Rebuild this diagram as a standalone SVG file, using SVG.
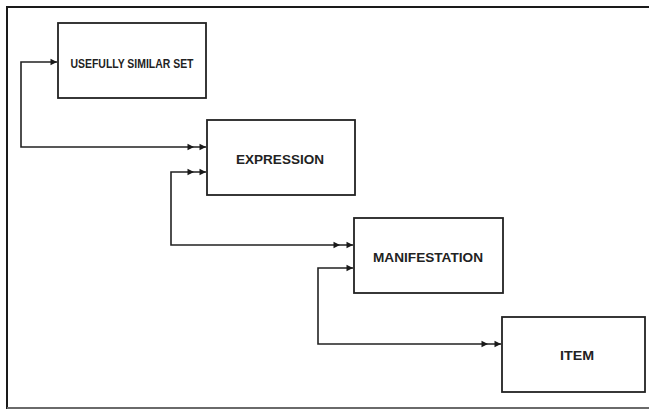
<svg xmlns="http://www.w3.org/2000/svg" xmlns:xlink="http://www.w3.org/1999/xlink" width="650" height="410" viewBox="0 0 650 410">
  <style>
    .frame { fill: none; stroke: #1a1a1a; stroke-width: 2; }
    .box { fill: #ffffff; stroke: #222222; stroke-width: 1.8; }
    .conn { fill: none; stroke: #222222; stroke-width: 1.6; }
    .lbl { font-family: "Liberation Sans", Arial, sans-serif; font-weight: bold; fill: #222222; text-anchor: middle; }
    .ah { fill: #1a1a1a; }
  </style>
  <defs>
    <path id="ah" class="ah" d="M-6.5,-3.3 L0,0 L-6.5,3.3 Z"/>
  </defs>
  <rect width="650" height="410" fill="#ffffff"/>
  <path class="frame" d="M649,7 H7 V408 H649"/>
  <line x1="7" y1="408" x2="649" y2="408" stroke="#6a6a6a" stroke-width="2"/>

  <g id="connectors">
    <path class="conn" d="M57,62 H21 V147 H206"/>
    <use xlink:href="#ah" x="57" y="62"/>
    <use xlink:href="#ah" x="194" y="147"/>
    <use xlink:href="#ah" x="206" y="147"/>

    <path class="conn" d="M206,172 H171 V245 H353"/>
    <use xlink:href="#ah" x="194" y="172"/>
    <use xlink:href="#ah" x="206" y="172"/>
    <use xlink:href="#ah" x="340" y="245"/>
    <use xlink:href="#ah" x="353" y="245"/>

    <path class="conn" d="M353,268 H318 V344 H501"/>
    <use xlink:href="#ah" x="353" y="268"/>
    <use xlink:href="#ah" x="488" y="344"/>
    <use xlink:href="#ah" x="501" y="344"/>
  </g>

  <g id="node-usefully-similar-set">
    <rect class="box" x="58" y="23" width="148" height="75"/>
    <text class="lbl" x="132" y="67.5" font-size="12.5" textLength="123" lengthAdjust="spacingAndGlyphs">USEFULLY SIMILAR SET</text>
  </g>
  <g id="node-expression">
    <rect class="box" x="207" y="120" width="148" height="75"/>
    <text class="lbl" x="280" y="164" font-size="13" textLength="88" lengthAdjust="spacingAndGlyphs">EXPRESSION</text>
  </g>
  <g id="node-manifestation">
    <rect class="box" x="354" y="218" width="149" height="75"/>
    <text class="lbl" x="428" y="262" font-size="13" textLength="110" lengthAdjust="spacingAndGlyphs">MANIFESTATION</text>
  </g>
  <g id="node-item">
    <rect class="box" x="502" y="317" width="143" height="75"/>
    <text class="lbl" x="577" y="360" font-size="13" textLength="34" lengthAdjust="spacingAndGlyphs">ITEM</text>
  </g>
</svg>
